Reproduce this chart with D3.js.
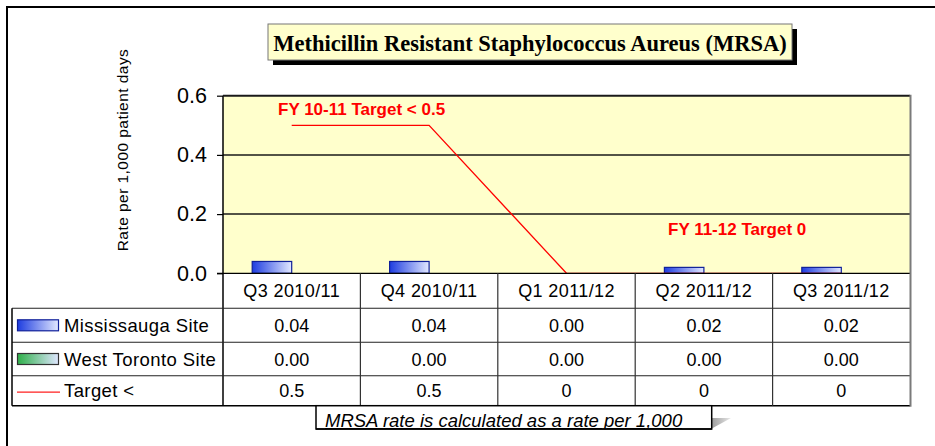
<!DOCTYPE html>
<html><head><meta charset="utf-8">
<script src="https://cdn.jsdelivr.net/npm/d3@7"></script>
<style>body{margin:0;background:#fff}svg{display:block;font-family:"Liberation Sans",Arial,sans-serif}</style>
</head><body>
<script>
const categories = ["Q3 2010/11","Q4 2010/11","Q1 2011/12","Q2 2011/12","Q3 2011/12"];
const mississauga = [0.04,0.04,0.00,0.02,0.02];
const westToronto = [0.00,0.00,0.00,0.00,0.00];
const target = [0.5,0.5,0,0,0];
const yTicks = [0,0.2,0.4,0.6];
const seriesNames = ["Mississauga Site","West Toronto Site","Target <"];
const titleText = "Methicillin Resistant Staphylococcus Aureus (MRSA)";
const yTitle = "Rate per 1,000 patient days";
const note1 = "FY 10-11 Target < 0.5";
const note2 = "FY 11-12 Target 0";
const footNote = "MRSA rate is calculated as a rate per 1,000";

const W=935,H=446;
const svg=d3.select("body").append("svg").attr("width",W).attr("height",H);
const defs=svg.append("defs");
function grad(id,c1,c2){const g=defs.append("linearGradient").attr("id",id).attr("x1","0").attr("x2","1").attr("y1","0").attr("y2","0");
 g.append("stop").attr("offset","0").attr("stop-color",c1);g.append("stop").attr("offset","1").attr("stop-color",c2);}
grad("gBlue","#1e3de0","#e2e8ff");
grad("gGreen","#2fb04a","#dfe6ff");
grad("gShadow","#9a9a9a","#e8e8e8");

const L=223,R=910,T=95.7,B=273.3;
const x=d3.scaleBand().domain(categories).range([L,R]).padding(0);
const y=d3.scaleLinear().domain([0,0.6]).range([B,T]);
const bw=x.bandwidth();
const x1=d3.scaleBand().domain(["m","w"]).range([0,79]);
const off=(bw-79)/2;

// outer border
svg.append("path").attr("d",`M7,${H}V7H${W}`).attr("fill","none").attr("stroke","#000").attr("stroke-width",2);

// plot background
svg.append("rect").attr("x",L).attr("y",T).attr("width",R-L).attr("height",B-T).attr("fill","#ffffcc");

// gridlines
svg.append("g").selectAll("line").data(yTicks.filter(d=>d>0)).join("line")
 .attr("x1",L).attr("x2",R).attr("y1",d=>y(d)).attr("y2",d=>y(d)).attr("stroke","#1a1a1a").attr("stroke-width",1.5);

// bars
const rows=categories.map((c,i)=>({c,m:mississauga[i],w:westToronto[i]}));
const gb=svg.append("g");
gb.selectAll("rect.m").data(rows).join("rect").attr("class","m")
 .attr("x",d=>x(d.c)+off+x1("m")).attr("width",x1.bandwidth()).attr("y",d=>y(d.m)).attr("height",d=>B-y(d.m))
 .attr("fill","url(#gBlue)").attr("stroke","#10209a").attr("stroke-width",1.2);
gb.selectAll("rect.w").data(rows).join("rect").attr("class","w")
 .attr("x",d=>x(d.c)+off+x1("w")).attr("width",x1.bandwidth()).attr("y",d=>y(d.w)).attr("height",d=>B-y(d.w))
 .attr("fill","url(#gGreen)").attr("stroke","#333").attr("stroke-width",1);

// target line
const line=d3.line().x((d,i)=>x(categories[i])+bw/2).y(d=>y(d));
svg.append("path").attr("d",line(target)).attr("fill","none").attr("stroke","#ff0000").attr("stroke-width",1.3);

// axis
const ax=svg.append("g").attr("transform",`translate(${L},0)`)
 .call(d3.axisLeft(y).tickValues(yTicks).tickFormat(d3.format(".1f")).tickSize(6).tickPadding(10));
ax.select(".domain").remove();
ax.selectAll(".tick line").attr("stroke","#000").attr("stroke-width",1.2);
ax.selectAll(".tick text").attr("font-size",21.5).attr("fill","#000").attr("font-family",null);

// table
const rowY=[B,308.3,342.3,375.7,405.7];
const tg=svg.append("g");
tg.append("line").attr("x1",L).attr("x2",L).attr("y1",T).attr("y2",rowY[4]).attr("stroke","#000").attr("stroke-width",1.5);
tg.append("line").attr("x1",L).attr("x2",R).attr("y1",T).attr("y2",T).attr("stroke","#1a1a1a").attr("stroke-width",1.8);
tg.append("line").attr("x1",L-6).attr("x2",R).attr("y1",B).attr("y2",B).attr("stroke","#000").attr("stroke-width",1.2);
[1,2,3,4].forEach(k=>tg.append("line").attr("x1",12).attr("x2",R).attr("y1",rowY[k]).attr("y2",rowY[k]).attr("stroke",k===4?"#000":"#222").attr("stroke-width",k===4?1.5:1.1));
tg.append("line").attr("x1",12).attr("x2",12).attr("y1",rowY[1]).attr("y2",rowY[4]).attr("stroke","#000").attr("stroke-width",1.5);
tg.selectAll("line.v").data(categories.slice(1)).join("line").attr("class","v")
 .attr("x1",d=>x(d)).attr("x2",d=>x(d)).attr("y1",B).attr("y2",rowY[4]).attr("stroke","#333").attr("stroke-width",1.2);
// right gray edge
svg.append("line").attr("x1",R+0.5).attr("x2",R+0.5).attr("y1",T-1).attr("y2",rowY[4]+1).attr("stroke","#7a7a7a").attr("stroke-width",2);

// category labels
tg.selectAll("text.cat").data(categories).join("text").attr("class","cat")
 .attr("x",d=>x(d)+bw/2).attr("y",(rowY[0]+rowY[1])/2+6.5).attr("text-anchor","middle").attr("font-size",18).attr("letter-spacing",0.4).text(d=>d);
const fmt2=d3.format(".2f"), fmtT=d3.format("");
const tableRows=[mississauga.map(fmt2),westToronto.map(fmt2),target.map(fmtT)];
tableRows.forEach((vals,r)=>{
 tg.selectAll(`text.r${r}`).data(vals).join("text").attr("class",`r${r}`)
  .attr("x",(d,i)=>x(categories[i])+bw/2).attr("y",(rowY[r+1]+rowY[r+2])/2+6.5).attr("text-anchor","middle").attr("font-size",18).text(d=>d);
 tg.append("text").attr("x",64).attr("y",(rowY[r+1]+rowY[r+2])/2+6.5).attr("font-size",18.5).attr("letter-spacing",0.4).text(seriesNames[r]);
});
// legend keys
const ky=[(rowY[1]+rowY[2])/2,(rowY[2]+rowY[3])/2,(rowY[3]+rowY[4])/2];
tg.append("rect").attr("x",17.5).attr("y",ky[0]-5.5).attr("width",41).attr("height",11).attr("fill","url(#gBlue)").attr("stroke","#10209a").attr("stroke-width",1.2);
tg.append("rect").attr("x",17.5).attr("y",ky[1]-5.5).attr("width",41).attr("height",11).attr("fill","url(#gGreen)").attr("stroke","#333").attr("stroke-width",1.2);
tg.append("line").attr("x1",17).attr("x2",60).attr("y1",ky[2]+1.5).attr("y2",ky[2]+1.5).attr("stroke","#ff2020").attr("stroke-width",1.3);

// y axis title
svg.append("text").attr("transform","translate(128,150) rotate(-90)").attr("text-anchor","middle").attr("font-size",15.5).attr("letter-spacing",0.45).text(yTitle);

// title box
svg.append("rect").attr("x",273).attr("y",29).attr("width",524).attr("height",36).attr("fill","#000");
svg.append("rect").attr("x",268).attr("y",24).attr("width",524).attr("height",36).attr("fill","#ffffcc").attr("stroke","#777").attr("stroke-width",1);
svg.append("text").attr("x",530).attr("y",50.5).attr("text-anchor","middle").style("font-family","'Liberation Serif','Times New Roman',serif").attr("font-weight","bold").attr("font-size",22.5).text(titleText);

// annotations
svg.append("text").attr("x",278).attr("y",115).attr("font-weight","bold").attr("font-size",17).attr("fill","#ff0000").text(note1);
svg.append("text").attr("x",668).attr("y",235).attr("font-weight","bold").attr("font-size",17).attr("fill","#ff0000").text(note2);

// footnote box
svg.append("path").attr("d","M711,418H731L711,429Z").attr("fill","url(#gShadow)");
defs.append("clipPath").attr("id","fnClip").append("rect").attr("x",316).attr("y",405.7).attr("width",395.7).attr("height",23.3);
svg.append("rect").attr("x",316).attr("y",405.7).attr("width",395.7).attr("height",23.3).attr("fill","#fff").attr("stroke","#000").attr("stroke-width",1.5);
svg.append("g").attr("clip-path","url(#fnClip)").append("text").attr("x",325).attr("y",427).attr("font-style","italic").attr("font-size",18.5)
 .attr("text-decoration","underline").text(footNote);
svg.append("line").attr("x1",316).attr("x2",711.7).attr("y1",429).attr("y2",429).attr("stroke","#000").attr("stroke-width",1.5);
</script>
</body></html>
